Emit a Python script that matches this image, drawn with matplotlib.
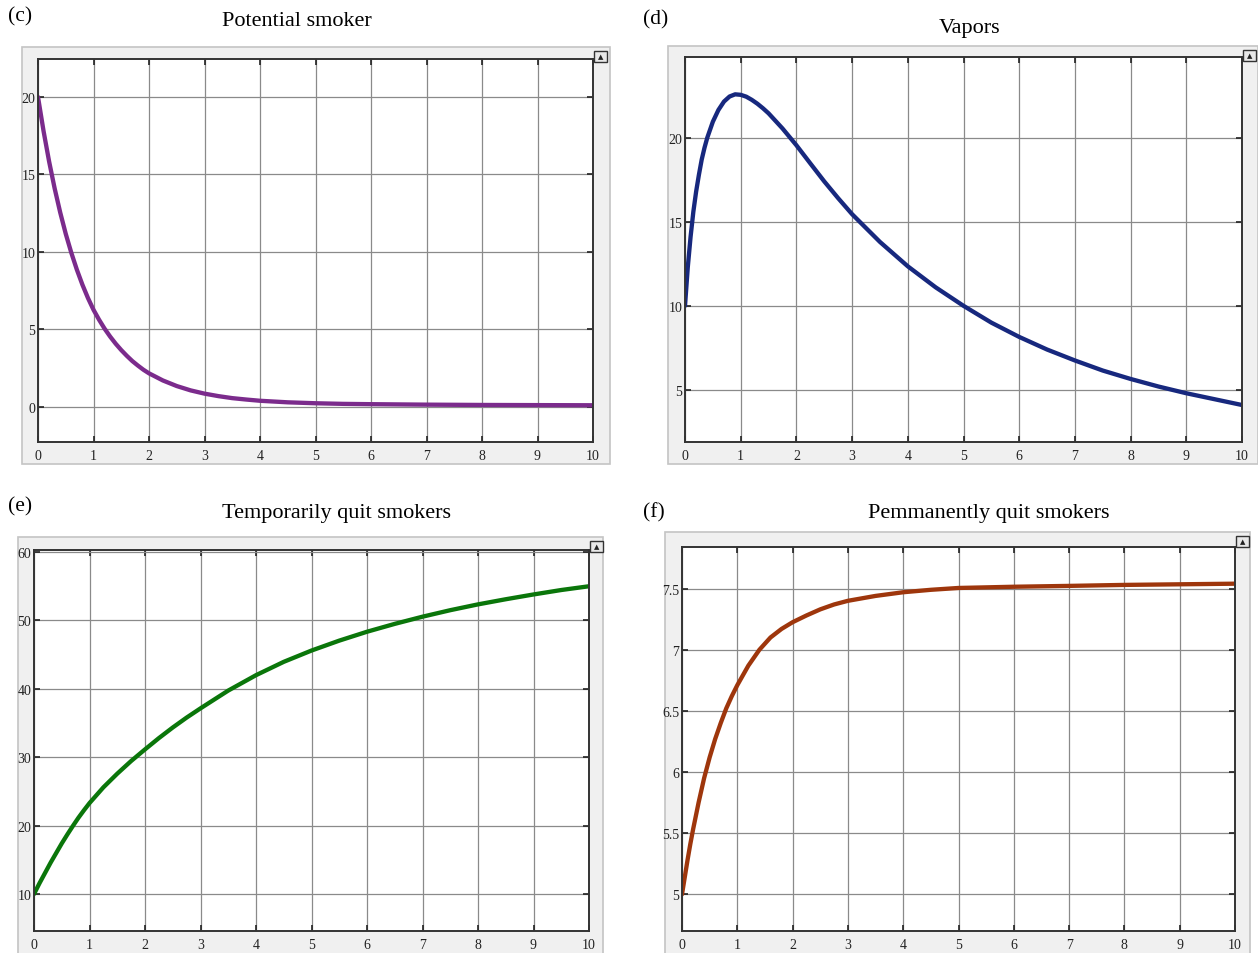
import matplotlib
matplotlib.use('Agg')
import matplotlib.pyplot as plt
from matplotlib.patches import Rectangle
from matplotlib.ticker import FormatStrFormatter

plt.rcParams['font.family'] = ['Liberation Serif', 'DejaVu Serif']

# (c) potential smoker
t_c = [0, 0.1, 0.2, 0.3, 0.4, 0.5, 0.6, 0.7, 0.8, 0.9, 1.0, 1.1, 1.2, 1.3, 1.4, 1.5, 1.6, 1.7, 1.8, 1.9, 2.0,
       2.25, 2.5, 2.75, 3, 3.25, 3.5, 3.75, 4, 4.5, 5, 5.5, 6, 7, 8, 9, 10]
y_c = [20, 17.8, 15.84, 14.1, 12.55, 11.17, 9.95, 8.86, 7.89, 7.03, 6.27, 5.63, 5.05, 4.54, 4.08, 3.67, 3.3,
       2.96, 2.67, 2.4, 2.17, 1.71, 1.35, 1.07, 0.86, 0.7, 0.57, 0.48, 0.4, 0.3, 0.24, 0.2, 0.18, 0.15, 0.13,
       0.12, 0.11]

# (d) vapors
t_d = [0, 0.05, 0.1, 0.15, 0.2, 0.25, 0.3, 0.35, 0.4, 0.5, 0.6, 0.7, 0.8, 0.9, 1.0, 1.1, 1.2, 1.3, 1.4, 1.5,
       1.75, 2, 2.25, 2.5, 2.75, 3, 3.5, 4, 4.5, 5, 5.5, 6, 6.5, 7, 7.5, 8, 8.5, 9, 9.5, 10]
y_d = [10, 12.3, 14.1, 15.6, 16.8, 17.8, 18.7, 19.4, 20.0, 20.95, 21.65, 22.15, 22.45, 22.58, 22.55, 22.44,
       22.25, 22.02, 21.75, 21.45, 20.55, 19.55, 18.47, 17.4, 16.4, 15.45, 13.8, 12.35, 11.1, 10.0, 9.0, 8.15,
       7.4, 6.75, 6.15, 5.65, 5.2, 4.8, 4.45, 4.1]

# (e) temporarily quit smokers
t_e = [0, 0.1, 0.2, 0.3, 0.4, 0.5, 0.6, 0.7, 0.8, 0.9, 1, 1.25, 1.5, 1.75, 2, 2.25, 2.5, 2.75, 3, 3.5, 4,
       4.5, 5, 5.5, 6, 6.5, 7, 7.5, 8, 8.5, 9, 9.5, 10]
y_e = [10, 11.6, 13.1, 14.6, 16.0, 17.4, 18.7, 19.95, 21.15, 22.25, 23.3, 25.6, 27.6, 29.45, 31.15, 32.8,
       34.35, 35.8, 37.15, 39.75, 42.0, 43.95, 45.6, 47.05, 48.35, 49.5, 50.55, 51.5, 52.35, 53.1, 53.8,
       54.45, 55.0]

# (f) permanently quit smokers
t_f = [0, 0.05, 0.1, 0.15, 0.2, 0.3, 0.4, 0.5, 0.6, 0.7, 0.8, 0.9, 1.0, 1.2, 1.4, 1.6, 1.8, 2.0, 2.25, 2.5,
       2.75, 3, 3.5, 4, 4.5, 5, 6, 7, 8, 9, 10]
y_f = [5, 5.14, 5.28, 5.41, 5.53, 5.75, 5.95, 6.12, 6.27, 6.4, 6.52, 6.62, 6.71, 6.87, 7.0, 7.1, 7.17, 7.225,
       7.28, 7.33, 7.37, 7.4, 7.44, 7.47, 7.49, 7.505, 7.515, 7.522, 7.53, 7.535, 7.54]

W, H = 1258, 954
fig = plt.figure(figsize=(W / 100, H / 100), dpi=100)


def px_rect(l, t, r, b):
    return [l / W, 1 - b / H, (r - l) / W, (b - t) / H]


panels = [
    # label, title, data, color, frame, axes, ylim, yticks, label pos, title pos
    ('(c)', 'Potential smoker', t_c, y_c, '#7b2b8c', (22, 48, 610, 465), (38, 60, 593, 443),
     (-2.26, 22.45), [0, 5, 10, 15, 20], (8, 17), (297, 22)),
    ('(d)', 'Vapors', t_d, y_d, '#17287e', (668, 47, 1258, 465), (685, 58, 1242, 443),
     (1.9, 24.8), [5, 10, 15, 20], (643, 20), (970, 29)),
    ('(e)', 'Temporarily quit smokers', t_e, y_e, '#0a760a', (18, 538, 603, 955), (34, 551, 589, 932),
     (4.6, 60.3), [10, 20, 30, 40, 50, 60], (8, 507), (336, 514)),
    ('(f)', 'Pemmanently quit smokers', t_f, y_f, '#9e360c', (665, 533, 1250, 955), (682, 548, 1235, 932),
     (4.70, 7.84), [5, 5.5, 6, 6.5, 7, 7.5], (643, 513), (989, 514)),
]

for lab, title, t, y, col, frame, axr, ylim, yt, lpos, tpos in panels:
    fl, ft, fr, fb = frame
    fig.patches.append(Rectangle((fl / W, 1 - fb / H), (fr - fl) / W, (fb - ft) / H,
                                 transform=fig.transFigure, facecolor='#f0f0f0',
                                 edgecolor='#c4c4c4', lw=1.2, zorder=-2))
    # small icon in the top right corner
    il = axr[2] + 1
    fig.patches.append(Rectangle((il / W, 1 - (ft + 15) / H), 13 / W, 11 / H,
                                 transform=fig.transFigure, facecolor='#e8e8e8',
                                 edgecolor='#333333', lw=1, zorder=-1))
    fig.text((il + 6.5) / W, 1 - (ft + 9.5) / H, '▲', fontsize=5, family='DejaVu Sans',
             ha='center', va='center', color='#222222')

    ax = fig.add_axes(px_rect(*axr))
    ax.plot(t, y, color=col, lw=3.1, solid_capstyle='round', solid_joinstyle='round')
    ax.set_xlim(0, 10)
    ax.set_ylim(*ylim)
    ax.set_xticks(range(11))
    ax.set_yticks(yt)
    ax.yaxis.set_major_formatter(FormatStrFormatter('%g'))
    ax.grid(True, color='#8a8a8a', lw=0.9)
    ax.tick_params(direction='in', length=4, width=1.2, top=True, right=True,
                   labelsize=10, pad=2, colors='#222222')
    ax.tick_params(axis='x', pad=5)
    for s in ax.spines.values():
        s.set_color('#333333')
        s.set_linewidth(1.4)

    fig.text(lpos[0] / W, 1 - lpos[1] / H, lab, fontsize=15.5, ha='left', va='center')
    fig.text(tpos[0] / W, 1 - tpos[1] / H, title, fontsize=16, ha='center', va='center')

fig.savefig('out.png', dpi=100, facecolor='white')
